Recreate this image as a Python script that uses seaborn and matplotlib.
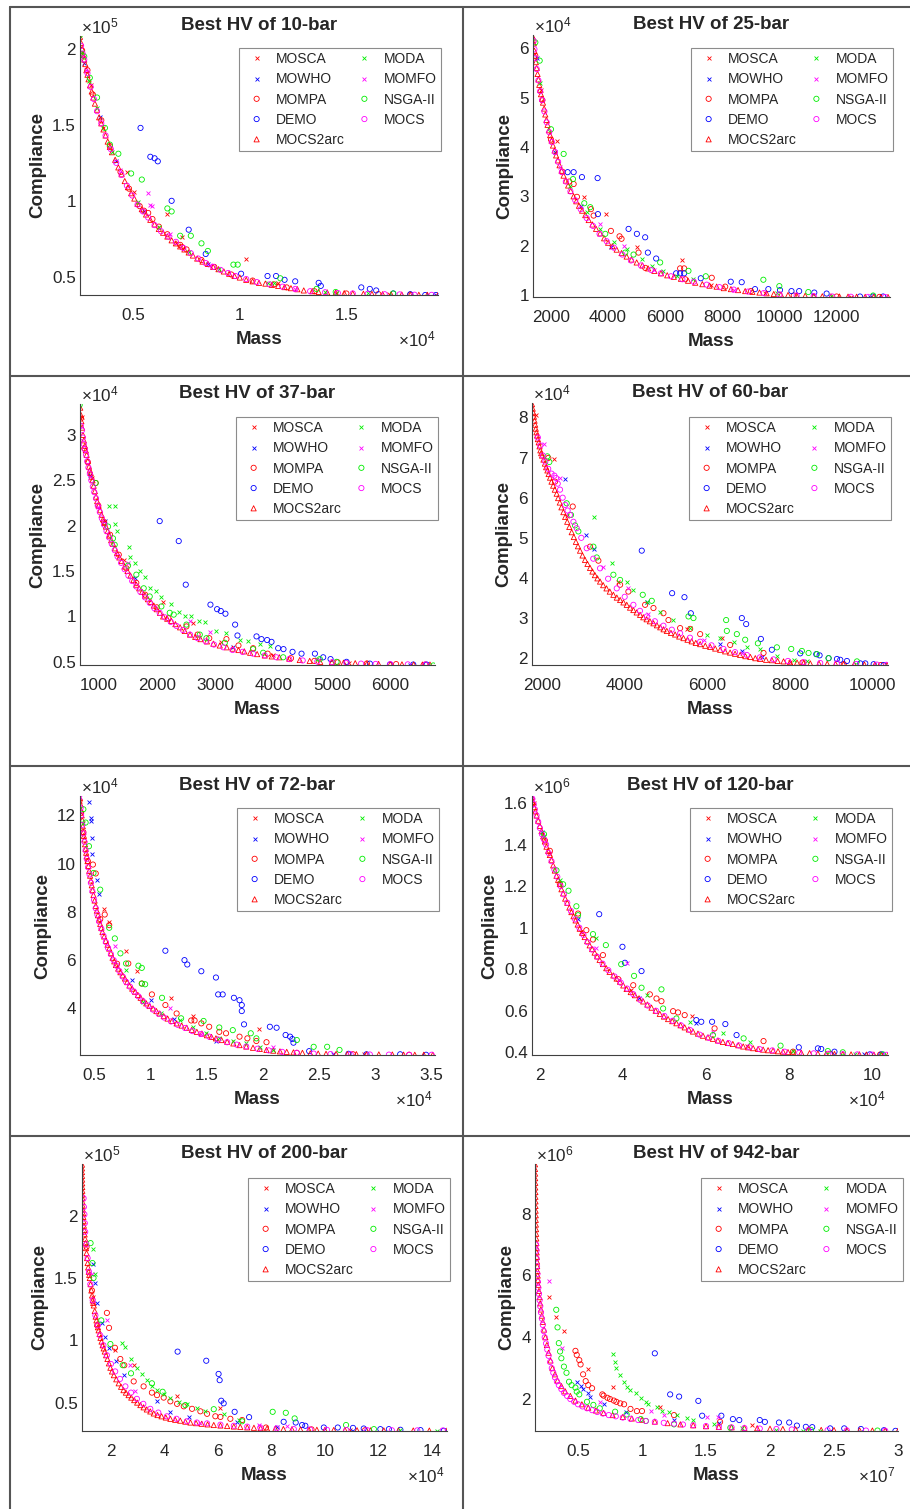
import numpy as np
import matplotlib
matplotlib.use('Agg')
import matplotlib.pyplot as plt
import seaborn as sns
from matplotlib.lines import Line2D
from matplotlib.ticker import FuncFormatter

sns.set_theme(style='white')
plt.rcParams['font.family'] = ['Liberation Sans', 'DejaVu Sans']
plt.rcParams['mathtext.default'] = 'regular'

# legend order (MATLAB fills the two columns top-down)
ALGOS = ['MOSCA', 'MOWHO', 'MOMPA', 'DEMO', 'MOCS2arc', 'MODA', 'MOMFO', 'NSGA-II', 'MOCS']
STYLE = {
    'MOSCA': ('x', '#FF0000'), 'MOWHO': ('x', '#0000FF'), 'MOMPA': ('o', '#FF0000'),
    'DEMO': ('o', '#0000FF'), 'MOCS2arc': ('^', '#FF0000'), 'MODA': ('x', '#00EE00'),
    'MOMFO': ('x', '#FF00FF'), 'NSGA-II': ('o', '#00EE00'), 'MOCS': ('o', '#FF00FF'),
}

# ---- 10-bar: mass x1e4, compliance x1e5 ----
BAR10 = {
    'MOSCA': [(0.265,1.96),(0.30,1.76),(0.36,1.48),(0.47,1.19),(0.505,1.06),(0.66,0.91),(0.70,0.72),(0.73,0.76),(1.03,0.62),(1.18,0.46),(1.45,0.395),(1.70,0.385)],
    'MOWHO': [(0.27,1.91),(0.345,1.55),(0.42,1.26),(0.55,0.93),(0.85,0.585),(1.92,0.38)],
    'MOMPA': [(0.26,1.99),(0.285,1.86),(0.31,1.70),(0.35,1.53),(0.39,1.36),(0.44,1.19),(0.48,1.08),(0.53,0.965),(0.55,0.935),(0.57,0.92),(0.59,0.88),(0.62,0.83),(0.66,0.78),(0.72,0.71),(0.73,0.695),(0.75,0.68),(0.82,0.61),(0.88,0.565),(0.96,0.515),(1.06,0.475),(1.16,0.45),(1.22,0.43),(1.35,0.405),(1.50,0.39),(1.65,0.386),(1.80,0.383)],
    'DEMO': [(0.534,1.48),(0.58,1.29),(0.60,1.28),(0.615,1.26),(0.68,1.00),(0.76,0.81),(0.84,0.65),(1.006,0.52),(1.13,0.505),(1.17,0.505),(1.21,0.48),(1.26,0.47),(1.37,0.46),(1.38,0.44),(1.57,0.43),(1.61,0.42),(1.64,0.41),(1.72,0.39),(1.80,0.385),(1.87,0.38),(1.92,0.38)],
    'MOCS2arc': [(0.250,2.08),(0.255,2.04),(0.26,2.00),(0.265,1.96),(0.27,1.93),(0.275,1.90),(0.28,1.86),(0.285,1.83),(0.29,1.80),(0.297,1.76),(0.305,1.72),(0.312,1.68),(0.32,1.64),(0.33,1.60),(0.34,1.55),(0.35,1.51),(0.36,1.47),(0.37,1.43),(0.38,1.39),(0.39,1.355),(0.40,1.32),(0.415,1.27),(0.43,1.22),(0.445,1.175),(0.46,1.13),(0.475,1.09),(0.49,1.05),(0.505,1.015),(0.52,0.98),(0.54,0.945),(0.56,0.91),(0.58,0.875),(0.60,0.845),(0.62,0.815),(0.64,0.79),(0.66,0.765),(0.68,0.74),(0.70,0.72),(0.72,0.70),(0.74,0.68),(0.76,0.66),(0.78,0.64),(0.80,0.62),(0.825,0.60),(0.85,0.585),(0.875,0.565),(0.90,0.55),(0.925,0.535),(0.95,0.52),(0.975,0.505),(1.00,0.495),(1.03,0.48),(1.06,0.47),(1.09,0.46),(1.12,0.455),(1.15,0.447),(1.18,0.44),(1.21,0.432),(1.24,0.425),(1.27,0.418),(1.30,0.41),(1.34,0.405),(1.37,0.40),(1.41,0.397),(1.45,0.395),(1.49,0.392),(1.53,0.39),(1.58,0.388),(1.62,0.387),(1.67,0.385),(1.71,0.384),(1.76,0.383),(1.80,0.382),(1.84,0.3815),(1.88,0.381),(1.93,0.38)],
    'MODA': [(0.26,1.98),(0.29,1.79),(0.33,1.61),(0.40,1.32),(0.52,0.99),(0.62,0.83),(0.76,0.66),(0.90,0.55),(1.13,0.46),(1.16,0.46),(1.40,0.40),(1.60,0.39)],
    'MOMFO': [(0.28,1.86),(0.44,1.20),(0.567,1.05),(0.58,0.97),(0.59,0.965),(0.67,0.78),(0.86,0.58),(1.26,0.42)],
    'NSGA-II': [(0.249,2.09),(0.27,1.95),(0.296,1.81),(0.33,1.68),(0.367,1.48),(0.39,1.37),(0.43,1.31),(0.49,1.18),(0.54,1.14),(0.66,0.95),(0.68,0.93),(0.72,0.77),(0.77,0.77),(0.82,0.72),(0.85,0.67),(0.97,0.58),(0.99,0.58),(1.19,0.49),(1.36,0.42),(1.45,0.40),(1.72,0.39)],
    'MOCS': [(0.255,2.02),(0.262,1.97),(0.27,1.93),(0.285,1.84),(0.30,1.75),(0.315,1.67),(0.33,1.59),(0.35,1.51),(0.37,1.43),(0.395,1.34),(0.42,1.25),(0.445,1.17),(0.47,1.10),(0.495,1.035),(0.52,0.975),(0.545,0.93),(0.57,0.89),(0.60,0.84),(0.63,0.80),(0.665,0.765),(0.70,0.73),(0.735,0.69),(0.77,0.655),(0.805,0.62),(0.84,0.59),(0.875,0.565),(0.91,0.545),(0.945,0.525),(0.98,0.505),(1.03,0.485),(1.08,0.465),(1.14,0.45),(1.20,0.435),(1.26,0.42),(1.33,0.405),(1.40,0.398),(1.46,0.393),(1.53,0.39),(1.60,0.388),(1.68,0.385),(1.75,0.384),(1.82,0.382),(1.90,0.381)],
}

# ---- 25-bar: mass, compliance x1e4 ----
BAR25 = {
    'MOSCA': [(1400,6.10),(1640,5.15),(2210,4.13),(3142,2.98),(3923,2.64),(5007,1.97),(6580,1.70),(7600,1.20),(9500,1.04),(12500,0.97)],
    'MOWHO': [(1500,5.80),(2150,3.90),(3049,2.81),(4100,1.98),(13165,0.97)],
    'MOMPA': [(1450,5.85),(1700,4.95),(2000,4.15),(2400,3.50),(2640,3.30),(2793,3.25),(2909,2.99),(3398,2.74),(3492,2.61),(4098,2.30),(4400,2.19),(4470,2.14),(5065,1.86),(5300,1.55),(6522,1.54),(6662,1.54),(6700,1.32),(7629,1.35),(8100,1.17),(9000,1.08),(10500,0.99),(12000,0.97),(13500,0.962)],
    'DEMO': [(2583,3.49),(2793,3.49),(3084,3.39),(3632,3.37),(3643,2.64),(4716,2.34),(5007,2.24),(5298,2.17),(5392,1.86),(5683,1.74),(6382,1.44),(6522,1.44),(6662,1.44),(7245,1.34),(8294,1.27),(8678,1.26),(9144,1.12),(9610,1.12),(10019,1.10),(10420,1.08),(10690,1.08),(11220,1.05),(11650,1.03),(12820,0.97),(13280,0.97),(13630,0.97)],
    'MOCS2arc': [(1375,6.22),(1395,6.10),(1420,5.95),(1445,5.84),(1470,5.72),(1500,5.60),(1530,5.48),(1560,5.37),(1590,5.26),(1620,5.16),(1650,5.07),(1685,4.98),(1720,4.90),(1760,4.78),(1800,4.66),(1840,4.55),(1880,4.45),(1925,4.34),(1970,4.24),(2020,4.13),(2070,4.03),(2125,3.93),(2180,3.83),(2240,3.73),(2300,3.63),(2370,3.52),(2440,3.42),(2520,3.32),(2600,3.22),(2690,3.11),(2790,3.00),(2885,2.90),(2980,2.81),(3090,2.71),(3200,2.62),(3320,2.52),(3450,2.43),(3580,2.34),(3720,2.25),(3860,2.15),(4000,2.06),(4150,1.99),(4300,1.92),(4470,1.85),(4650,1.78),(4820,1.72),(5000,1.66),(5200,1.60),(5400,1.54),(5620,1.49),(5850,1.44),(6070,1.40),(6300,1.37),(6550,1.33),(6800,1.29),(7050,1.25),(7300,1.22),(7550,1.19),(7800,1.17),(8050,1.14),(8300,1.12),(8550,1.10),(8800,1.08),(9050,1.065),(9300,1.05),(9550,1.035),(9800,1.02),(10050,1.01),(10300,1.00),(10600,0.99),(10900,0.985),(11200,0.98),(11500,0.975),(11800,0.972),(12100,0.97),(12400,0.967),(12700,0.965),(13000,0.963),(13300,0.962),(13550,0.961),(13800,0.96)],
    'MODA': [(1600,5.30),(2676,3.21),(3259,2.68),(3725,2.34),(4191,2.07),(4657,1.93),(5182,1.73),(5532,1.59),(5939,1.49),(6405,1.39),(6988,1.32),(9900,1.05),(11800,0.98)],
    'MOMFO': [(2300,3.60),(3725,2.44),(4540,2.00),(5600,1.50),(8400,1.10)],
    'NSGA-II': [(1452,6.12),(1604,5.75),(2000,4.36),(2443,3.86),(2770,3.35),(3166,2.86),(3375,2.78),(3900,2.24),(4600,1.86),(4890,1.82),(5823,1.66),(6813,1.49),(7420,1.38),(9436,1.31),(9995,1.18),(11010,1.06),(13280,0.99)],
    'MOCS': [(1390,6.15),(1420,5.98),(1450,5.80),(1500,5.58),(1560,5.35),(1620,5.13),(1690,4.95),(1770,4.72),(1850,4.50),(1940,4.30),(2030,4.10),(2140,3.90),(2250,3.70),(2380,3.49),(2520,3.30),(2680,3.10),(2850,2.92),(3040,2.74),(3250,2.56),(3470,2.40),(3700,2.24),(3950,2.09),(4200,1.96),(4500,1.82),(4800,1.70),(5150,1.60),(5500,1.51),(5850,1.44),(6200,1.38),(6600,1.32),(7000,1.27),(7450,1.21),(7900,1.16),(8400,1.11),(8900,1.07),(9450,1.04),(10000,1.01),(10600,0.99),(11200,0.98),(11850,0.97),(12500,0.965),(13100,0.962),(13700,0.96)],
}

# ---- 37-bar: mass, compliance x1e4 ----
BAR37 = {
    'MOSCA': [(720,3.20),(900,2.52),(1434,1.62),(2109,1.16),(2623,0.93),(3100,0.72),(4000,0.57),(5300,0.49)],
    'MOWHO': [(851,2.56),(1120,2.05),(1623,1.42),(3300,0.66),(6337,0.47)],
    'MOMPA': [(700,3.18),(760,2.85),(820,2.70),(954,2.47),(1000,2.22),(1100,2.04),(1200,1.90),(1350,1.68),(1480,1.53),(1650,1.37),(1800,1.24),(2000,1.10),(2200,0.98),(2509,0.89),(2700,0.80),(2900,0.76),(3194,0.75),(3400,0.68),(3651,0.65),(3900,0.59),(4300,0.54),(4700,0.51),(5100,0.495),(5600,0.482),(6100,0.475),(6600,0.47)],
    'DEMO': [(2051,2.05),(2377,1.83),(2497,1.35),(2920,1.13),(3034,1.08),(3097,1.06),(3177,1.03),(3343,0.91),(3383,0.79),(3709,0.78),(3794,0.75),(3891,0.74),(3966,0.72),(4080,0.65),(4171,0.64),(4326,0.61),(4480,0.59),(4709,0.59),(4851,0.55),(4977,0.53),(5251,0.50),(5651,0.48),(5994,0.47),(6394,0.47),(6623,0.47)],
    'MOCS2arc': [(690,3.30),(700,3.22),(710,3.15),(722,3.08),(737,3.00),(752,2.94),(770,2.88),(785,2.83),(800,2.78),(820,2.71),(840,2.65),(855,2.61),(870,2.58),(885,2.54),(900,2.50),(920,2.44),(940,2.38),(960,2.32),(980,2.27),(1005,2.22),(1030,2.17),(1055,2.12),(1080,2.07),(1105,2.03),(1130,1.99),(1160,1.94),(1190,1.89),(1220,1.84),(1250,1.80),(1285,1.75),(1320,1.70),(1360,1.65),(1400,1.61),(1450,1.55),(1500,1.50),(1550,1.45),(1600,1.40),(1650,1.35),(1700,1.31),(1750,1.27),(1800,1.23),(1850,1.19),(1900,1.16),(1950,1.12),(2000,1.08),(2055,1.04),(2110,1.00),(2180,0.975),(2250,0.95),(2320,0.915),(2400,0.88),(2480,0.84),(2570,0.80),(2660,0.775),(2750,0.75),(2860,0.725),(2970,0.70),(3080,0.68),(3200,0.66),(3300,0.645),(3400,0.63),(3500,0.615),(3600,0.60),(3720,0.585),(3850,0.57),(3970,0.56),(4100,0.55),(4270,0.535),(4450,0.52),(4620,0.51),(4800,0.50),(5000,0.495),(5200,0.49),(5400,0.485),(5600,0.48),(5800,0.477),(6000,0.475),(6200,0.472),(6400,0.47),(6550,0.47),(6680,0.47)],
    'MODA': [(1189,2.22),(1286,2.22),(1280,2.02),(1326,1.94),(1520,1.77),(1537,1.66),(1634,1.59),(1709,1.50),(1794,1.43),(1891,1.31),(1983,1.28),(2069,1.21),(2251,1.14),(2383,1.05),(2486,1.01),(2594,1.01),(2726,0.95),(2823,0.94),(3011,0.84),(3194,0.82),(3423,0.74),(3566,0.73),(3766,0.70),(3937,0.67),(4737,0.53)],
    'MOMFO': [(1000,2.20),(1509,1.59),(2566,0.95),(2909,0.83)],
    'NSGA-II': [(680,3.33),(954,2.47),(1166,1.99),(1251,1.86),(1280,1.79),(1509,1.56),(1651,1.46),(1777,1.31),(1880,1.22),(2080,1.11),(2223,1.04),(2291,1.02),(2509,0.91),(2737,0.80),(2851,0.76),(3166,0.71),(3651,0.64),(3823,0.60),(4166,0.55),(4794,0.53),(5080,0.50),(6737,0.46)],
    'MOCS': [(700,3.10),(720,3.05),(735,2.97),(750,2.90),(770,2.84),(790,2.78),(810,2.71),(830,2.64),(855,2.57),(880,2.50),(905,2.43),(930,2.37),(960,2.30),(990,2.22),(1025,2.15),(1060,2.08),(1100,2.01),(1140,1.94),(1185,1.87),(1230,1.80),(1280,1.73),(1330,1.66),(1390,1.59),(1450,1.52),(1515,1.45),(1580,1.39),(1650,1.33),(1720,1.27),(1800,1.21),(1880,1.15),(1960,1.09),(2050,1.04),(2140,0.99),(2240,0.94),(2340,0.895),(2450,0.85),(2570,0.80),(2700,0.76),(2840,0.725),(2980,0.69),(3140,0.66),(3300,0.63),(3470,0.61),(3650,0.59),(3850,0.57),(4050,0.55),(4270,0.53),(4500,0.515),(4750,0.503),(5000,0.495),(5250,0.487),(5500,0.48),(5750,0.477),(6000,0.475),(6300,0.472),(6600,0.47)],
}

# ---- 60-bar: mass, compliance x1e4 ----
BAR60 = {
    'MOSCA': [(1855,8.07),(2291,6.97),(2600,5.55),(3848,3.91),(5500,2.72),(6350,2.50),(8000,1.91)],
    'MOWHO': [(2565,6.46),(3065,5.06),(3267,4.72),(4534,3.41),(6294,2.35),(6834,2.18),(7318,2.04)],
    'MOMPA': [(2153,6.99),(2315,6.40),(2743,5.78),(3162,4.78),(3364,4.43),(3889,3.83),(4090,3.66),(4494,3.33),(4696,3.25),(4938,3.12),(5059,2.95),(5341,2.75),(5584,2.73),(5826,2.60),(6552,2.33),(7359,2.13),(8300,1.89),(9300,1.85),(10200,1.83)],
    'DEMO': [(4413,4.68),(5148,3.62),(5446,3.52),(5600,3.12),(6834,3.00),(6939,2.85),(7295,2.48),(7561,2.21),(8247,2.12),(8634,2.10),(8715,2.07),(8933,2.00),(9135,1.98),(9215,1.96),(9377,1.93),(9700,1.87),(9821,1.87),(10023,1.85),(10265,1.83)],
    'MOCS2arc': [(1758,8.33),(1775,8.22),(1790,8.12),(1805,8.02),(1820,7.92),(1835,7.82),(1850,7.72),(1865,7.63),(1880,7.55),(1900,7.46),(1920,7.38),(1940,7.28),(1960,7.18),(1980,7.11),(2000,7.05),(2035,6.95),(2070,6.85),(2100,6.76),(2130,6.68),(2160,6.59),(2194,6.50),(2230,6.40),(2270,6.30),(2310,6.20),(2355,6.10),(2390,5.99),(2430,5.88),(2470,5.76),(2517,5.64),(2560,5.52),(2610,5.40),(2660,5.27),(2718,5.14),(2770,5.02),(2820,4.90),(2870,4.79),(2920,4.68),(2980,4.56),(3040,4.45),(3100,4.35),(3162,4.25),(3220,4.16),(3280,4.07),(3340,3.99),(3404,3.91),(3480,3.82),(3560,3.74),(3640,3.66),(3727,3.58),(3810,3.51),(3890,3.45),(3970,3.39),(4050,3.33),(4130,3.26),(4210,3.20),(4290,3.14),(4373,3.08),(4450,3.02),(4530,2.97),(4610,2.92),(4696,2.87),(4780,2.82),(4860,2.77),(4940,2.72),(5019,2.68),(5120,2.63),(5220,2.59),(5320,2.54),(5422,2.50),(5520,2.46),(5620,2.42),(5720,2.38),(5826,2.35),(5950,2.31),(6070,2.28),(6190,2.24),(6310,2.21),(6430,2.17),(6550,2.14),(6670,2.11),(6794,2.08),(6920,2.05),(7040,2.03),(7160,2.00),(7278,1.98),(7420,1.96),(7560,1.95),(7700,1.93),(7843,1.92),(8000,1.90),(8170,1.89),(8330,1.88),(8489,1.87),(8700,1.865),(8900,1.86),(9100,1.855),(9296,1.85),(9550,1.845),(9800,1.84),(10050,1.835),(10345,1.83)],
    'MODA': [(3267,5.53),(3687,4.37),(4050,3.91),(4211,3.70),(4534,3.41),(4857,3.16),(5180,2.95),(5584,2.75),(5987,2.58),(6310,2.50),(6633,2.41),(6956,2.29),(7278,2.23),(7682,2.06),(8086,1.96),(8408,1.93)],
    'MOMFO': [(2048,7.33),(2436,6.49),(3469,4.28),(4090,3.74),(4575,3.10),(5923,2.46),(6834,2.12)],
    'NSGA-II': [(2129,7.03),(2178,6.89),(2597,5.86),(2702,5.57),(2799,5.31),(2880,5.16),(3243,4.78),(3324,4.51),(3727,4.08),(3889,3.95),(4437,3.58),(4655,3.43),(5543,3.04),(5664,3.00),(6455,2.95),(6471,2.68),(6713,2.60),(6915,2.46),(7222,2.37),(7682,2.27),(8029,2.23),(8287,2.18),(8448,2.13),(8650,2.10),(8933,2.00),(9619,1.92)],
    'MOCS': [(1900,7.50),(1960,7.30),(2020,7.05),(2080,6.90),(2150,6.72),(2230,6.60),(2300,6.55),(2339,6.49),(2380,6.35),(2436,6.20),(2500,6.00),(2560,5.82),(2620,5.68),(2678,5.57),(2760,5.40),(2839,5.24),(2950,5.00),(3081,4.74),(3240,4.48),(3404,4.24),(3600,3.98),(3808,3.74),(4000,3.53),(4211,3.33),(4370,3.18),(4534,3.04),(4730,2.92),(4938,2.81),(5140,2.71),(5341,2.62),(5580,2.51),(5826,2.41),(6100,2.32),(6391,2.23),(6670,2.15),(6956,2.08),(7270,2.02),(7601,1.97),(7950,1.93),(8328,1.90),(8730,1.88),(9134,1.87),(9600,1.855),(10103,1.84),(10330,1.835)],
}

# ---- 72-bar: mass x1e4, compliance x1e4 ----
BAR72 = {
    'MOSCA': [(0.37,12.6),(0.58,8.10),(0.63,7.56),(0.78,6.37),(0.88,5.54),(1.18,4.44),(1.38,3.70),(1.96,3.14),(2.90,2.10)],
    'MOWHO': [(0.45,12.55),(0.465,11.89),(0.47,11.75),(0.48,11.08),(0.48,10.41),(0.52,9.34),(0.54,8.76),(0.83,5.17),(1.00,4.34),(1.21,3.56),(1.58,2.65),(2.62,2.10)],
    'MOMPA': [(0.38,12.1),(0.40,11.3),(0.44,10.1),(0.485,9.96),(0.51,9.59),(0.55,7.7),(0.59,7.89),(0.63,7.45),(0.70,5.85),(0.80,5.86),(0.92,5.03),(1.01,4.58),(1.13,4.14),(1.23,3.79),(1.36,3.50),(1.39,3.50),(1.45,3.38),(1.52,3.24),(1.61,3.03),(1.67,2.97),(1.79,2.83),(1.86,2.76),(1.94,2.65),(2.03,2.60),(2.30,2.16),(2.80,2.10),(3.30,2.08)],
    'DEMO': [(1.13,6.39),(1.30,6.00),(1.325,5.82),(1.45,5.54),(1.58,5.28),(1.60,4.58),(1.64,4.58),(1.74,4.44),(1.79,4.34),(1.81,4.14),(1.81,3.89),(1.83,3.34),(2.06,3.24),(2.12,3.20),(2.20,2.90),(2.24,2.83),(2.26,2.73),(2.27,2.58),(2.41,2.23),(2.76,2.12),(2.92,2.10),(3.22,2.10),(3.45,2.08)],
    'MOCS2arc': [(0.37,12.7),(0.375,12.45),(0.38,12.2),(0.385,12.0),(0.39,11.8),(0.395,11.55),(0.40,11.3),(0.405,11.15),(0.41,11.0),(0.415,10.8),(0.42,10.6),(0.425,10.45),(0.43,10.3),(0.437,10.1),(0.445,9.9),(0.452,9.7),(0.46,9.5),(0.467,9.3),(0.475,9.1),(0.482,8.9),(0.49,8.7),(0.50,8.47),(0.51,8.25),(0.52,8.05),(0.53,7.86),(0.54,7.68),(0.55,7.5),(0.56,7.33),(0.57,7.17),(0.585,6.98),(0.60,6.8),(0.615,6.64),(0.63,6.48),(0.645,6.29),(0.66,6.1),(0.675,5.95),(0.69,5.8),(0.71,5.65),(0.73,5.5),(0.75,5.37),(0.77,5.24),(0.79,5.09),(0.81,4.95),(0.835,4.82),(0.86,4.69),(0.885,4.56),(0.91,4.44),(0.935,4.32),(0.96,4.21),(0.99,4.1),(1.02,4.0),(1.05,3.89),(1.08,3.79),(1.115,3.68),(1.15,3.58),(1.19,3.48),(1.23,3.38),(1.275,3.29),(1.32,3.2),(1.365,3.11),(1.41,3.03),(1.455,2.96),(1.50,2.89),(1.54,2.82),(1.58,2.76),(1.63,2.69),(1.68,2.62),(1.735,2.55),(1.79,2.48),(1.85,2.42),(1.91,2.37),(1.97,2.32),(2.03,2.28),(2.09,2.25),(2.15,2.22),(2.21,2.2),(2.27,2.18),(2.35,2.16),(2.42,2.14),(2.49,2.13),(2.56,2.12),(2.65,2.115),(2.75,2.11),(2.83,2.105),(2.92,2.10),(3.03,2.095),(3.15,2.09),(3.25,2.085),(3.35,2.08),(3.43,2.08),(3.51,2.08)],
    'MODA': [(0.40,11.7),(0.78,5.59),(0.93,4.28),(1.09,3.79),(1.26,3.52),(1.38,3.24),(1.49,3.00),(1.61,2.76),(1.73,2.65),(1.85,2.55),(1.97,2.41),(2.09,2.28)],
    'MOMFO': [(0.37,12.75),(0.68,6.58),(1.17,4.03),(1.45,2.92),(2.09,2.41)],
    'NSGA-II': [(0.40,12.25),(0.42,11.70),(0.45,10.72),(0.49,9.61),(0.55,8.92),(0.63,7.34),(0.68,6.90),(0.73,6.28),(0.78,5.86),(0.89,5.77),(0.92,5.68),(0.92,5.03),(0.95,5.00),(1.10,4.44),(1.27,3.59),(1.47,3.48),(1.61,3.21),(1.73,3.10),(1.89,2.97),(1.94,2.76),(2.30,2.69),(2.45,2.41),(2.57,2.41),(2.68,2.28)],
    'MOCS': [(0.375,12.3),(0.38,12.0),(0.39,11.6),(0.40,11.25),(0.41,10.9),(0.42,10.55),(0.43,10.2),(0.442,9.85),(0.455,9.55),(0.467,9.2),(0.48,8.85),(0.495,8.5),(0.51,8.15),(0.525,7.88),(0.54,7.6),(0.56,7.3),(0.58,7.0),(0.60,6.75),(0.62,6.5),(0.645,6.25),(0.67,6.0),(0.695,5.77),(0.72,5.55),(0.75,5.32),(0.78,5.1),(0.815,4.9),(0.85,4.7),(0.89,4.5),(0.93,4.3),(0.975,4.12),(1.02,3.95),(1.07,3.78),(1.12,3.62),(1.18,3.46),(1.24,3.32),(1.305,3.19),(1.37,3.06),(1.445,2.94),(1.52,2.83),(1.60,2.71),(1.68,2.6),(1.765,2.5),(1.85,2.42),(1.95,2.33),(2.05,2.26),(2.17,2.2),(2.30,2.16),(2.45,2.13),(2.60,2.11),(2.78,2.10),(2.95,2.09),(3.12,2.085),(3.30,2.08),(3.50,2.08)],
}

# ---- 120-bar: mass x1e4, compliance x1e6 ----
BAR120 = {
    'MOSCA': [(1.85,1.60),(2.24,1.357),(3.00,0.98),(4.20,0.70),(5.67,0.576),(7.00,0.43)],
    'MOWHO': [(2.05,1.46),(2.92,1.04),(4.40,0.66),(5.77,0.539),(9.80,0.39)],
    'MOMPA': [(2.12,1.42),(2.24,1.37),(2.48,1.212),(2.92,1.068),(3.12,0.988),(3.28,0.943),(3.52,0.868),(3.89,0.752),(4.25,0.723),(4.65,0.679),(4.81,0.659),(4.93,0.646),(5.21,0.598),(5.33,0.592),(5.49,0.579),(6.21,0.515),(7.39,0.454),(8.10,0.403),(9.00,0.393),(10.2,0.389)],
    'DEMO': [(3.43,1.065),(3.99,0.908),(4.05,0.831),(4.45,0.791),(5.77,0.555),(5.89,0.547),(6.15,0.547),(6.47,0.536),(6.74,0.483),(8.24,0.424),(8.70,0.419),(8.78,0.416),(9.10,0.403),(9.95,0.39),(10.23,0.39)],
    'MOCS2arc': [(1.81,1.63),(1.835,1.605),(1.86,1.58),(1.89,1.56),(1.92,1.54),(1.96,1.515),(2.00,1.49),(2.04,1.465),(2.08,1.44),(2.12,1.415),(2.16,1.39),(2.20,1.37),(2.24,1.35),(2.28,1.325),(2.32,1.30),(2.36,1.275),(2.40,1.25),(2.44,1.23),(2.48,1.21),(2.52,1.185),(2.56,1.165),(2.61,1.14),(2.66,1.12),(2.71,1.097),(2.76,1.075),(2.81,1.055),(2.86,1.035),(2.91,1.015),(2.96,0.995),(3.02,0.975),(3.08,0.955),(3.14,0.935),(3.20,0.915),(3.26,0.897),(3.32,0.88),(3.38,0.862),(3.44,0.845),(3.52,0.825),(3.60,0.805),(3.68,0.787),(3.77,0.77),(3.85,0.755),(3.93,0.74),(4.01,0.722),(4.09,0.705),(4.19,0.69),(4.29,0.675),(4.39,0.66),(4.49,0.645),(4.59,0.63),(4.69,0.615),(4.79,0.60),(4.89,0.585),(4.99,0.572),(5.09,0.56),(5.19,0.55),(5.29,0.54),(5.39,0.53),(5.49,0.52),(5.59,0.51),(5.69,0.50),(5.81,0.49),(5.93,0.48),(6.05,0.472),(6.17,0.465),(6.29,0.457),(6.41,0.45),(6.53,0.445),(6.65,0.44),(6.78,0.434),(6.90,0.428),(7.02,0.424),(7.14,0.42),(7.26,0.416),(7.38,0.413),(7.50,0.41),(7.62,0.408),(7.74,0.405),(7.86,0.403),(7.98,0.401),(8.10,0.40),(8.30,0.398),(8.50,0.396),(8.70,0.394),(8.90,0.393),(9.10,0.392),(9.30,0.391),(9.50,0.39),(9.70,0.39),(9.87,0.389),(10.05,0.389),(10.22,0.388),(10.39,0.388)],
    'MODA': [(2.10,1.44),(2.48,1.228),(3.36,0.948),(4.57,0.675),(5.61,0.547),(6.41,0.491),(7.06,0.451),(8.10,0.406),(9.60,0.392)],
    'MOMFO': [(1.82,1.63),(3.36,0.90),(3.90,0.75),(4.09,0.832),(6.17,0.499)],
    'NSGA-II': [(2.10,1.45),(2.40,1.276),(2.56,1.209),(2.69,1.178),(2.88,1.103),(2.92,1.06),(3.28,0.969),(3.59,0.916),(3.96,0.824),(4.27,0.768),(4.45,0.711),(4.93,0.703),(4.97,0.611),(5.29,0.563),(6.17,0.483),(6.91,0.467),(7.80,0.432),(8.94,0.406),(9.30,0.40),(10.27,0.39)],
    'MOCS': [(1.82,1.62),(1.85,1.595),(1.88,1.57),(1.92,1.54),(1.96,1.51),(2.00,1.48),(2.05,1.45),(2.10,1.425),(2.15,1.40),(2.21,1.36),(2.28,1.32),(2.35,1.28),(2.42,1.245),(2.50,1.20),(2.58,1.16),(2.66,1.12),(2.75,1.08),(2.85,1.04),(2.95,1.00),(3.05,0.965),(3.15,0.93),(3.26,0.895),(3.38,0.86),(3.51,0.827),(3.65,0.795),(3.80,0.765),(3.95,0.735),(4.10,0.707),(4.25,0.68),(4.42,0.652),(4.60,0.625),(4.80,0.60),(5.00,0.575),(5.20,0.552),(5.40,0.53),(5.62,0.507),(5.85,0.485),(6.07,0.47),(6.30,0.455),(6.55,0.444),(6.80,0.433),(7.05,0.424),(7.30,0.415),(7.60,0.409),(7.90,0.403),(8.25,0.398),(8.60,0.395),(8.95,0.393),(9.30,0.391),(9.65,0.39),(10.0,0.389),(10.35,0.388)],
}

# ---- 200-bar: mass x1e4, compliance x1e5 ----
BAR200 = {
    'MOSCA': [(1.35,1.35),(2.17,0.92),(2.86,0.80),(4.48,0.55),(6.10,0.453),(10.95,0.28)],
    'MOWHO': [(1.34,1.61),(1.43,1.46),(1.49,1.30),(1.68,1.14),(1.80,1.03),(1.95,0.935),(2.21,0.83),(2.51,0.72),(3.73,0.512),(4.20,0.426),(4.91,0.386),(6.72,0.346),(8.21,0.303)],
    'MOMPA': [(1.10,1.75),(1.30,1.40),(1.50,1.12),(1.86,1.22),(1.94,1.10),(2.16,0.94),(2.36,0.85),(2.51,0.80),(2.86,0.67),(3.23,0.63),(3.54,0.58),(3.73,0.56),(3.98,0.54),(4.23,0.51),(4.48,0.49),(4.73,0.47),(5.04,0.45),(5.35,0.43),(5.60,0.41),(5.91,0.39),(6.10,0.385),(6.47,0.37),(6.91,0.36),(7.80,0.30),(9.50,0.285),(11.5,0.278)],
    'DEMO': [(4.50,0.909),(5.57,0.836),(6.03,0.73),(6.07,0.68),(6.13,0.515),(6.22,0.494),(6.63,0.426),(7.17,0.383),(8.46,0.346),(8.91,0.34),(9.15,0.32),(9.27,0.314),(9.96,0.30),(10.48,0.30),(11.05,0.297),(11.45,0.292),(12.07,0.287),(12.39,0.287),(12.82,0.282),(13.57,0.279),(14.44,0.274)],
    'MOCS2arc': [(0.93,2.41),(0.93,2.38),(0.93,2.35),(0.932,2.32),(0.935,2.29),(0.937,2.26),(0.94,2.23),(0.942,2.20),(0.945,2.17),(0.947,2.14),(0.95,2.11),(0.955,2.08),(0.96,2.05),(0.97,2.02),(0.98,1.99),(0.99,1.955),(1.00,1.92),(1.015,1.885),(1.03,1.85),(1.045,1.815),(1.06,1.78),(1.08,1.74),(1.10,1.70),(1.12,1.66),(1.14,1.62),(1.16,1.585),(1.18,1.55),(1.20,1.525),(1.22,1.50),(1.25,1.45),(1.28,1.40),(1.305,1.36),(1.33,1.32),(1.35,1.30),(1.37,1.28),(1.405,1.235),(1.44,1.19),(1.47,1.16),(1.50,1.13),(1.525,1.105),(1.55,1.08),(1.585,1.05),(1.62,1.02),(1.66,0.99),(1.70,0.96),(1.74,0.935),(1.78,0.91),(1.83,0.88),(1.88,0.85),(1.935,0.815),(1.99,0.78),(2.05,0.75),(2.12,0.72),(2.21,0.687),(2.30,0.655),(2.39,0.627),(2.48,0.60),(2.57,0.58),(2.67,0.56),(2.77,0.54),(2.88,0.52),(2.99,0.50),(3.11,0.48),(3.23,0.462),(3.35,0.445),(3.48,0.429),(3.61,0.413),(3.75,0.40),(3.90,0.39),(4.06,0.38),(4.23,0.37),(4.41,0.362),(4.60,0.355),(4.79,0.347),(4.98,0.34),(5.19,0.335),(5.40,0.33),(5.62,0.325),(5.85,0.32),(6.10,0.316),(6.35,0.312),(6.60,0.308),(6.84,0.305),(7.10,0.301),(7.35,0.298),(7.60,0.295),(7.84,0.292),(8.15,0.29),(8.45,0.288),(8.77,0.286),(9.09,0.284),(9.40,0.283),(9.70,0.282),(10.0,0.281),(10.33,0.28),(10.75,0.279),(11.2,0.278),(11.7,0.2775),(12.2,0.277),(12.75,0.2765),(13.3,0.276),(13.9,0.2755),(14.56,0.275)],
    'MODA': [(1.35,1.73),(1.40,1.53),(2.42,0.976),(2.55,0.944),(2.76,0.85),(2.98,0.775),(3.17,0.727),(3.36,0.68),(3.54,0.635),(3.73,0.60),(3.98,0.566),(4.23,0.534),(4.54,0.507),(4.85,0.485),(5.23,0.459),(5.54,0.432),(6.22,0.405),(6.78,0.36),(12.8,0.277),(14.2,0.275)],
    'MOMFO': [(1.30,1.53),(1.86,1.16),(2.73,0.80),(2.92,0.59),(5.35,0.34),(7.53,0.324),(8.59,0.31)],
    'NSGA-II': [(1.25,1.78),(1.32,1.62),(1.36,1.50),(1.65,1.16),(1.99,0.97),(2.45,0.80),(2.76,0.735),(3.54,0.655),(3.94,0.587),(4.79,0.48),(5.85,0.447),(6.91,0.35),(8.05,0.426),(8.54,0.418),(8.87,0.373),(10.79,0.32),(11.83,0.287)],
    'MOCS': [(0.99,2.14),(1.00,2.07),(1.02,2.01),(1.035,1.94),(1.05,1.87),(1.09,1.77),(1.14,1.66),(1.19,1.55),(1.24,1.45),(1.33,1.32),(1.43,1.20),(1.52,1.12),(1.61,1.04),(1.73,0.96),(1.86,0.88),(2.01,0.81),(2.17,0.75),(2.35,0.69),(2.55,0.63),(2.76,0.58),(2.98,0.53),(3.22,0.49),(3.48,0.45),(3.78,0.42),(4.10,0.39),(4.46,0.37),(4.85,0.35),(5.22,0.34),(5.60,0.333),(6.10,0.323),(6.60,0.314),(7.10,0.307),(7.59,0.30),(8.20,0.293),(8.84,0.287),(9.45,0.284),(10.08,0.281),(10.8,0.28),(11.58,0.279),(12.5,0.278),(13.45,0.277),(14.4,0.276)],
}

# ---- 942-bar: mass x1e7, compliance x1e6 ----
BAR942 = {
    'MOSCA': [(0.27,5.30),(0.33,4.67),(0.39,4.20),(0.58,2.97),(0.77,2.40),(1.14,1.75),(1.86,1.16)],
    'MOWHO': [(0.49,2.54),(0.52,2.43),(0.54,2.32),(0.58,2.18),(0.59,2.08),(0.70,1.83),(0.875,1.57),(1.25,1.31),(1.60,1.24)],
    'MOMPA': [(0.48,3.56),(0.49,3.43),(0.51,3.26),(0.52,3.12),(0.54,2.80),(0.56,2.58),(0.58,2.45),(0.61,2.35),(0.69,2.15),(0.70,2.11),(0.73,2.04),(0.75,2.00),(0.78,1.95),(0.80,1.91),(0.83,1.86),(0.86,1.83),(0.91,1.68),(0.96,1.61),(1.00,1.61),(1.25,1.48),(1.61,1.26)],
    'DEMO': [(1.10,3.48),(1.22,2.15),(1.29,2.08),(1.44,1.94),(1.47,1.46),(1.62,1.46),(1.71,1.35),(1.76,1.32),(1.92,1.32),(1.96,1.26),(2.07,1.24),(2.15,1.24),(2.21,1.14),(2.28,1.10),(2.33,1.09),(2.47,1.05),(2.58,1.05),(2.71,1.03),(2.89,0.99),(2.98,0.97)],
    'MOCS2arc': [(0.164,9.6),(0.164,9.45),(0.165,9.3),(0.165,9.15),(0.166,9.0),(0.166,8.85),(0.167,8.7),(0.167,8.55),(0.168,8.4),(0.168,8.25),(0.169,8.1),(0.17,7.95),(0.17,7.8),(0.171,7.65),(0.172,7.5),(0.173,7.35),(0.174,7.2),(0.175,7.05),(0.176,6.9),(0.177,6.75),(0.178,6.6),(0.18,6.45),(0.181,6.3),(0.183,6.15),(0.185,6.0),(0.187,5.85),(0.19,5.7),(0.195,5.5),(0.20,5.3),(0.205,5.1),(0.21,4.9),(0.217,4.7),(0.225,4.5),(0.235,4.25),(0.245,4.0),(0.257,3.75),(0.27,3.5),(0.285,3.25),(0.30,3.0),(0.32,2.8),(0.34,2.6),(0.37,2.42),(0.40,2.25),(0.44,2.1),(0.48,1.95),(0.53,1.83),(0.58,1.72),(0.64,1.63),(0.70,1.55),(0.77,1.48),(0.85,1.42),(0.92,1.37),(1.00,1.33),(1.10,1.27),(1.20,1.22),(1.30,1.18),(1.40,1.15),(1.50,1.12),(1.60,1.10),(1.70,1.085),(1.80,1.07),(1.90,1.055),(2.00,1.04),(2.10,1.03),(2.20,1.02),(2.30,1.01),(2.40,1.00),(2.50,0.995),(2.60,0.99),(2.70,0.985),(2.80,0.98),(2.90,0.975),(3.00,0.97)],
    'MODA': [(0.77,3.45),(0.79,3.21),(0.80,3.00),(0.83,2.78),(0.86,2.56),(0.88,2.40),(0.91,2.29),(0.95,2.18),(0.99,2.02),(1.03,1.91),(1.05,1.85),(1.12,1.75),(1.16,1.61),(1.21,1.57),(1.27,1.48),(1.35,1.39),(1.40,1.32),(1.56,1.18),(1.78,1.07),(2.05,0.99),(2.26,0.97),(2.39,0.97)],
    'MOMFO': [(0.27,5.81),(0.375,3.64),(0.67,1.91),(1.07,1.61),(1.17,1.48),(1.51,1.43),(1.59,1.43)],
    'NSGA-II': [(0.33,4.89),(0.34,4.32),(0.35,3.81),(0.36,3.54),(0.37,3.32),(0.39,3.05),(0.41,2.85),(0.43,2.56),(0.45,2.45),(0.48,2.37),(0.49,2.24),(0.51,2.15),(0.57,1.91),(0.62,1.81),(0.67,1.70),(0.79,1.59),(0.88,1.50),(0.99,1.35),(1.03,1.29),(1.25,1.18),(1.69,1.07),(2.32,1.00),(2.84,0.98)],
    'MOCS': [(0.172,7.0),(0.175,6.8),(0.177,6.55),(0.18,6.3),(0.183,6.05),(0.186,5.8),(0.19,5.6),(0.195,5.4),(0.20,5.2),(0.205,5.0),(0.211,4.8),(0.218,4.6),(0.225,4.4),(0.232,4.2),(0.24,4.0),(0.25,3.8),(0.26,3.6),(0.27,3.4),(0.282,3.2),(0.295,3.0),(0.307,2.85),(0.32,2.7),(0.335,2.57),(0.35,2.45),(0.37,2.32),(0.39,2.2),(0.415,2.1),(0.44,2.0),(0.47,1.91),(0.50,1.83),(0.535,1.76),(0.57,1.70),(0.61,1.64),(0.65,1.58),(0.695,1.53),(0.74,1.48),(0.795,1.44),(0.85,1.40),(0.91,1.36),(0.97,1.32),(1.03,1.29),(1.10,1.26),(1.17,1.23),(1.25,1.20),(1.32,1.175),(1.40,1.15),(1.50,1.125),(1.60,1.10),(1.70,1.08),(1.80,1.06),(1.92,1.045),(2.05,1.03),(2.17,1.015),(2.30,1.00),(2.45,0.99),(2.60,0.985),(2.75,0.98),(2.90,0.975)],
}

W, H = 910, 1509
# per panel: title, data, x/y unit, x/y limits and ticks (in shown units), exponent, axes box px (l, t, r, b), legend top-right px
PANELS = [
    ('Best HV of 10-bar', BAR10, 1e4, 1e5, (0.25, 1.93), (0.38, 2.085), [0.5, 1, 1.5], [0.5, 1, 1.5, 2], 4, 5, (80, 36, 438, 295), (441, 48)),
    ('Best HV of 25-bar', BAR25, 1, 1e4, (1370, 13870), (0.96, 6.27), [2000, 4000, 6000, 8000, 10000, 12000], [1, 2, 3, 4, 5, 6], None, 4, (533, 35, 890, 297), (893, 48)),
    ('Best HV of 37-bar', BAR37, 1, 1e4, (686, 6766), (0.465, 3.34), [1000, 2000, 3000, 4000, 5000, 6000], [0.5, 1, 1.5, 2, 2.5, 3], None, 4, (80, 404, 435, 665), (438, 417)),
    ('Best HV of 60-bar', BAR60, 1, 1e4, (1758, 10370), (1.83, 8.36), [2000, 4000, 6000, 8000, 10000], [2, 3, 4, 5, 6, 7, 8], None, 4, (532, 403, 888, 665), (891, 417)),
    ('Best HV of 72-bar', BAR72, 1e4, 1e4, (0.37, 3.53), (2.07, 12.8), [0.5, 1, 1.5, 2, 2.5, 3, 3.5], [4, 6, 8, 10, 12], 4, 4, (80, 796, 435, 1055), (439, 808)),
    ('Best HV of 120-bar', BAR120, 1e4, 1e6, (1.81, 10.39), (0.387, 1.634), [2, 4, 6, 8, 10], [0.4, 0.6, 0.8, 1, 1.2, 1.4, 1.6], 4, 6, (532, 796, 888, 1055), (892, 808)),
    ('Best HV of 200-bar', BAR200, 1e4, 1e5, (0.93, 14.56), (0.272, 2.415), [2, 4, 6, 8, 10, 12, 14], [0.5, 1, 1.5, 2], 4, 5, (82, 1164, 447, 1431), (450, 1178)),
    ('Best HV of 942-bar', BAR942, 1e7, 1e6, (0.164, 3.0), (0.965, 9.61), [0.5, 1, 1.5, 2, 2.5, 3], [2, 4, 6, 8], 7, 6, (535, 1164, 898, 1431), (903, 1178)),
]

fig = plt.figure(figsize=(W / 100, H / 100), dpi=100)
AX_COL = '#404040'
TICK_FS = 12.3

for title, data, xs, ys, xlim, ylim, xt, yt, xexp, yexp, box, leg in PANELS:
    l, t, r, b = box
    ax = fig.add_axes([l / W, 1 - b / H, (r - l) / W, (b - t) / H])
    for name in ALGOS:
        pts = np.array(data[name], dtype=float)
        mk, col = STYLE[name]
        if mk == 'x':
            sns.scatterplot(x=pts[:, 0] * xs, y=pts[:, 1] * ys, ax=ax, marker='x', color=col,
                            s=8, linewidth=0.6, label=name, legend=False)
        else:
            sns.scatterplot(x=pts[:, 0] * xs, y=pts[:, 1] * ys, ax=ax, marker=mk, facecolor='none',
                            edgecolor=col, s=14, linewidth=0.6, label=name, legend=False)
    ax.set_xlim(xlim[0] * xs, xlim[1] * xs)
    ax.set_ylim(ylim[0] * ys, ylim[1] * ys)
    ax.set_xticks([v * xs for v in xt])
    ax.set_yticks([v * ys for v in yt])
    ax.xaxis.set_major_formatter(FuncFormatter(lambda v, p, s=xs: f'{v / s:g}'))
    ax.yaxis.set_major_formatter(FuncFormatter(lambda v, p, s=ys: f'{v / s:g}'))
    for side in ['top', 'right']:
        ax.spines[side].set_visible(False)
    for side in ['left', 'bottom']:
        ax.spines[side].set_color(AX_COL)
        ax.spines[side].set_linewidth(0.8)
    ax.tick_params(direction='in', length=3.5, width=0.6, color=AX_COL, labelcolor='#262626', labelsize=TICK_FS)
    ax.tick_params(axis='x', pad=9)
    ax.tick_params(axis='y', pad=3)
    ax.set_title(title, fontsize=13.5, fontweight='bold', pad=4)
    ax.set_xlabel('Mass', fontsize=13.5, fontweight='bold', labelpad=6)
    ax.set_ylabel('Compliance', fontsize=13.5, fontweight='bold', labelpad=4)
    if yexp:
        ax.annotate(r'$\times\mathdefault{10^{%d}}$' % yexp, xy=(0, 1), xycoords='axes fraction',
                    xytext=(1, 0), textcoords='offset points', ha='left', va='bottom',
                    fontsize=TICK_FS, color='#262626')
    if xexp:
        ax.annotate(r'$\times\mathdefault{10^{%d}}$' % xexp, xy=(1, 0), xycoords='axes fraction',
                    xytext=(-2, -25), textcoords='offset points', ha='right', va='top',
                    fontsize=TICK_FS, color='#262626')
    lg = ax.legend(loc='upper right', bbox_to_anchor=(leg[0] / W, 1 - leg[1] / H),
                   bbox_transform=fig.transFigure, borderaxespad=0, ncol=2, fontsize=10,
                   frameon=True, fancybox=False, edgecolor='#8c8c8c', framealpha=1,
                   scatterpoints=1, scatteryoffsets=[0.5], handlelength=2.0, handletextpad=0.4,
                   columnspacing=0.4, labelspacing=0.45, borderpad=0.3)
    lg.get_frame().set_linewidth(0.8)

# table-like cell borders of the composite picture
BORDER = '#555555'
def hline(y, x0=10, x1=W):
    fig.add_artist(Line2D([x0 / W, x1 / W], [1 - y / H, 1 - y / H], color=BORDER, lw=1.5, transform=fig.transFigure))
def vline(x, y0=7, y1=H):
    fig.add_artist(Line2D([x / W, x / W], [1 - y0 / H, 1 - y1 / H], color=BORDER, lw=1.5, transform=fig.transFigure))

for yy in [7, 376, 766, 1136]:
    hline(yy)
for xx in [10, 463]:
    vline(xx)

fig.savefig('out.png', dpi=100)
